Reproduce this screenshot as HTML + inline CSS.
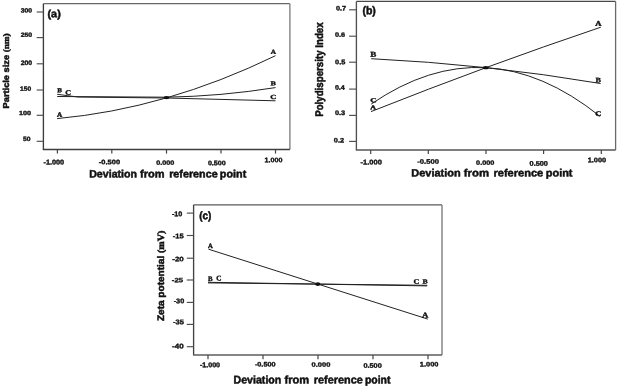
<!DOCTYPE html>
<html><head><meta charset="utf-8"><style>
html,body{margin:0;padding:0;background:#fff;}
svg{display:block;}
text{text-rendering:geometricPrecision;}
.s{font-family:"Liberation Sans",sans-serif;font-weight:bold;}
.r{font-family:"Liberation Serif",serif;font-weight:bold;}
</style></head><body>
<svg width="618" height="387" viewBox="0 0 618 387" style="filter:blur(0.3px)">
<rect width="618" height="387" fill="#fff"/>
<path d="M43.4,3.7 H289.9" fill="none" stroke="#686868" stroke-width="1.3"/>
<path d="M289.9,3.7 V149.5" fill="none" stroke="#7a7a7a" stroke-width="1.3"/>
<path d="M43.4,3.7 V149.5" fill="none" stroke="#3c3c3c" stroke-width="1.35"/>
<path d="M42.8,149.5 H289.9" fill="none" stroke="#3e3e3e" stroke-width="1.4"/>
<path d="M36.7,12.0 H43.4" stroke="#4e4e4e" stroke-width="1.15"/>
<path d="M36.7,37.6 H43.4" stroke="#4e4e4e" stroke-width="1.15"/>
<path d="M36.7,63.8 H43.4" stroke="#4e4e4e" stroke-width="1.15"/>
<path d="M36.7,90.0 H43.4" stroke="#4e4e4e" stroke-width="1.15"/>
<path d="M36.7,115.3 H43.4" stroke="#4e4e4e" stroke-width="1.15"/>
<path d="M36.7,141.3 H43.4" stroke="#4e4e4e" stroke-width="1.15"/>
<path d="M57.4,149.5 V153.6" stroke="#444" stroke-width="1.2"/>
<path d="M111.8,149.5 V153.6" stroke="#444" stroke-width="1.2"/>
<path d="M166.5,149.5 V153.6" stroke="#444" stroke-width="1.2"/>
<path d="M221.0,149.5 V153.6" stroke="#444" stroke-width="1.2"/>
<path d="M275.5,149.5 V153.6" stroke="#444" stroke-width="1.2"/>
<path d="M356.4,1.45 H615.6" fill="none" stroke="#484848" stroke-width="1.3"/>
<path d="M615.6,1.45 V149.95" fill="none" stroke="#6a6a6a" stroke-width="1.3"/>
<path d="M356.4,1.45 V149.95" fill="none" stroke="#505050" stroke-width="1.35"/>
<path d="M355.79999999999995,149.95 H615.6" fill="none" stroke="#545454" stroke-width="1.4"/>
<path d="M349.1,9.8 H356.4" stroke="#4e4e4e" stroke-width="1.15"/>
<path d="M349.1,36.2 H356.4" stroke="#4e4e4e" stroke-width="1.15"/>
<path d="M349.1,62.2 H356.4" stroke="#4e4e4e" stroke-width="1.15"/>
<path d="M349.1,89.1 H356.4" stroke="#4e4e4e" stroke-width="1.15"/>
<path d="M349.1,115.4 H356.4" stroke="#4e4e4e" stroke-width="1.15"/>
<path d="M349.1,141.4 H356.4" stroke="#4e4e4e" stroke-width="1.15"/>
<path d="M370.7,149.95 V154.1" stroke="#444" stroke-width="1.2"/>
<path d="M428.3,149.95 V154.1" stroke="#444" stroke-width="1.2"/>
<path d="M486.0,149.95 V154.1" stroke="#444" stroke-width="1.2"/>
<path d="M543.6,149.95 V154.1" stroke="#444" stroke-width="1.2"/>
<path d="M601.3,149.95 V154.1" stroke="#444" stroke-width="1.2"/>
<path d="M193.6,204.9 H442.0" fill="none" stroke="#5a5a5a" stroke-width="1.3"/>
<path d="M442.0,204.9 V355.0" fill="none" stroke="#747474" stroke-width="1.3"/>
<path d="M193.6,204.9 V355.0" fill="none" stroke="#424242" stroke-width="1.35"/>
<path d="M193.0,355.0 H442.0" fill="none" stroke="#5c5c5c" stroke-width="1.4"/>
<path d="M186.8,213.1 H193.6" stroke="#4e4e4e" stroke-width="1.15"/>
<path d="M186.8,235.5 H193.6" stroke="#4e4e4e" stroke-width="1.15"/>
<path d="M186.8,258.2 H193.6" stroke="#4e4e4e" stroke-width="1.15"/>
<path d="M186.8,280.0 H193.6" stroke="#4e4e4e" stroke-width="1.15"/>
<path d="M186.8,302.4 H193.6" stroke="#4e4e4e" stroke-width="1.15"/>
<path d="M186.8,324.4 H193.6" stroke="#4e4e4e" stroke-width="1.15"/>
<path d="M186.8,346.7 H193.6" stroke="#4e4e4e" stroke-width="1.15"/>
<path d="M208.0,355.0 V359.2" stroke="#444" stroke-width="1.2"/>
<path d="M263.0,355.0 V359.2" stroke="#444" stroke-width="1.2"/>
<path d="M318.0,355.0 V359.2" stroke="#444" stroke-width="1.2"/>
<path d="M373.0,355.0 V359.2" stroke="#444" stroke-width="1.2"/>
<path d="M428.0,355.0 V359.2" stroke="#444" stroke-width="1.2"/>
<path d="M57.1,118.6 Q166.4,108.7 275.5,55.7" fill="none" stroke="#222" stroke-width="1"/>
<path d="M57.2,96.5 L166.4,97.2 Q220.95,96.3 275.5,87.6" fill="none" stroke="#222" stroke-width="1"/>
<path d="M57.2,94.3 Q67,95.6 78,97.0 L166.4,98.0 L275.5,100.8" fill="none" stroke="#222" stroke-width="1"/>
<path d="M371,111.6 Q486,65.9 600.8,27.2" fill="none" stroke="#222" stroke-width="1"/>
<path d="M371.2,58.7 Q486,64.2 600.6,83.5" fill="none" stroke="#222" stroke-width="1"/>
<path d="M371.2,104.1 Q486,25.1 600,116.3" fill="none" stroke="#222" stroke-width="1"/>
<path d="M208.5,249.2 L427.8,319.1" fill="none" stroke="#222" stroke-width="1"/>
<path d="M208,282.3 L427.2,285.9" fill="none" stroke="#222" stroke-width="1"/>
<path d="M208,282.9 L427.2,285.3" fill="none" stroke="#222" stroke-width="1"/>
<ellipse cx="166.5" cy="97.6" rx="2.9" ry="1.6" fill="#111"/>
<ellipse cx="485.7" cy="67.65" rx="3.0" ry="1.6" fill="#111"/>
<ellipse cx="317.8" cy="284.1" rx="2.6" ry="1.9" fill="#111"/>
<text class="s" transform="matrix(1.08482,0.00050,0.00050,1.04787,47.483,17.274)" font-size="10" fill="#111" stroke="#111" stroke-width="0.469" stroke-linejoin="round">(a)</text>
<text class="s" transform="matrix(0.68683,0.00050,0.00050,0.61380,20.734,12.568)" font-size="10" fill="#111" stroke="#111" stroke-width="0.585" stroke-linejoin="round">300</text>
<text class="s" transform="matrix(0.69113,0.00050,0.00050,0.59972,20.664,36.769)" font-size="10" fill="#111" stroke="#111" stroke-width="0.590" stroke-linejoin="round">250</text>
<text class="s" transform="matrix(0.69113,0.00050,0.00050,0.64197,20.664,65.065)" font-size="10" fill="#111" stroke="#111" stroke-width="0.570" stroke-linejoin="round">200</text>
<text class="s" transform="matrix(0.66611,0.00050,0.00050,0.61380,19.971,90.668)" font-size="10" fill="#111" stroke="#111" stroke-width="0.594" stroke-linejoin="round">150</text>
<text class="s" transform="matrix(0.72344,0.00050,0.00050,0.59972,19.037,115.069)" font-size="10" fill="#111" stroke="#111" stroke-width="0.577" stroke-linejoin="round">100</text>
<text class="s" transform="matrix(0.67865,0.00050,0.00050,0.61380,23.067,140.968)" font-size="10" fill="#111" stroke="#111" stroke-width="0.589" stroke-linejoin="round">50</text>
<text class="s" transform="matrix(0.72938,0.00050,0.00050,0.68423,43.479,164.461)" font-size="10" fill="#111" stroke="#111" stroke-width="0.538" stroke-linejoin="round">-1.000</text>
<text class="s" transform="matrix(0.74756,0.00050,0.00050,0.64197,98.872,164.165)" font-size="10" fill="#111" stroke="#111" stroke-width="0.549" stroke-linejoin="round">-0.500</text>
<text class="s" transform="matrix(0.72554,0.00050,0.00050,0.61380,156.181,164.668)" font-size="10" fill="#111" stroke="#111" stroke-width="0.569" stroke-linejoin="round">0.000</text>
<text class="s" transform="matrix(0.71727,0.00050,0.00050,0.65606,207.884,165.363)" font-size="10" fill="#111" stroke="#111" stroke-width="0.554" stroke-linejoin="round">0.500</text>
<text class="s" transform="matrix(0.71908,0.00050,0.00050,0.65606,264.440,162.263)" font-size="10" fill="#111" stroke="#111" stroke-width="0.553" stroke-linejoin="round">1.000</text>
<text class="s" transform="matrix(1.06293,0.00050,0.00050,1.07246,89.181,177.475)" font-size="10" fill="#111" stroke="#111" stroke-width="0.468" stroke-linejoin="round">Deviation</text>
<text class="s" transform="matrix(1.10047,0.00050,0.00050,1.07246,140.105,177.475)" font-size="10" fill="#111" stroke="#111" stroke-width="0.460" stroke-linejoin="round">from</text>
<text class="s" transform="matrix(1.07614,0.00050,0.00050,1.07246,169.172,177.475)" font-size="10" fill="#111" stroke="#111" stroke-width="0.465" stroke-linejoin="round">reference</text>
<text class="s" transform="matrix(1.07839,0.00050,0.00050,1.07246,219.870,177.475)" font-size="10" fill="#111" stroke="#111" stroke-width="0.465" stroke-linejoin="round">point</text>
<text class="s" transform="matrix(0.00000,-0.92513,0.85688,0.00000,8.777,108.423)" font-size="10" fill="#111" stroke="#111" stroke-width="0.562" stroke-linejoin="round">Particle size <tspan class="r">(nm)</tspan></text>
<text class="r" transform="matrix(0.71903,0.00050,0.00050,0.62431,57.227,92.129)" font-size="10" fill="#111" stroke="#111" stroke-width="0.567" stroke-linejoin="round">B</text>
<text class="r" transform="matrix(0.80967,0.00050,0.00050,0.67545,65.366,94.761)" font-size="10" fill="#111" stroke="#111" stroke-width="0.514" stroke-linejoin="round">C</text>
<text class="r" transform="matrix(0.72257,0.00050,0.00050,0.69061,56.899,116.729)" font-size="10" fill="#111" stroke="#111" stroke-width="0.538" stroke-linejoin="round">A</text>
<text class="r" transform="matrix(0.72257,0.00050,0.00050,0.61485,270.699,53.629)" font-size="10" fill="#111" stroke="#111" stroke-width="0.570" stroke-linejoin="round">A</text>
<text class="r" transform="matrix(0.81581,0.00050,0.00050,0.57815,270.608,85.229)" font-size="10" fill="#111" stroke="#111" stroke-width="0.553" stroke-linejoin="round">B</text>
<text class="r" transform="matrix(0.84300,0.00050,0.00050,0.63000,270.350,98.966)" font-size="10" fill="#111" stroke="#111" stroke-width="0.521" stroke-linejoin="round">C</text>
<text class="s" transform="matrix(1.05508,0.00050,0.00050,1.12234,362.397,14.218)" font-size="10" fill="#111" stroke="#111" stroke-width="0.459" stroke-linejoin="round">(b)</text>
<text class="s" transform="matrix(0.73725,0.00050,0.00050,0.65606,335.876,10.463)" font-size="10" fill="#111" stroke="#111" stroke-width="0.546" stroke-linejoin="round">0.7</text>
<text class="s" transform="matrix(0.73725,0.00050,0.00050,0.62789,334.876,36.866)" font-size="10" fill="#111" stroke="#111" stroke-width="0.559" stroke-linejoin="round">0.6</text>
<text class="s" transform="matrix(0.73924,0.00050,0.00050,0.65606,335.075,64.263)" font-size="10" fill="#111" stroke="#111" stroke-width="0.546" stroke-linejoin="round">0.5</text>
<text class="s" transform="matrix(0.71541,0.00050,0.00050,0.64197,334.885,89.865)" font-size="10" fill="#111" stroke="#111" stroke-width="0.561" stroke-linejoin="round">0.4</text>
<text class="s" transform="matrix(0.73725,0.00050,0.00050,0.65606,334.876,114.963)" font-size="10" fill="#111" stroke="#111" stroke-width="0.546" stroke-linejoin="round">0.3</text>
<text class="s" transform="matrix(0.74489,0.00050,0.00050,0.65606,333.773,142.563)" font-size="10" fill="#111" stroke="#111" stroke-width="0.544" stroke-linejoin="round">0.2</text>
<text class="s" transform="matrix(0.75120,0.00050,0.00050,0.68423,360.571,164.461)" font-size="10" fill="#111" stroke="#111" stroke-width="0.530" stroke-linejoin="round">-1.000</text>
<text class="s" transform="matrix(0.76938,0.00050,0.00050,0.65606,417.163,163.763)" font-size="10" fill="#111" stroke="#111" stroke-width="0.535" stroke-linejoin="round">-0.500</text>
<text class="s" transform="matrix(0.73380,0.00050,0.00050,0.61380,476.077,164.668)" font-size="10" fill="#111" stroke="#111" stroke-width="0.566" stroke-linejoin="round">0.000</text>
<text class="s" transform="matrix(0.73380,0.00050,0.00050,0.67014,529.577,165.762)" font-size="10" fill="#111" stroke="#111" stroke-width="0.542" stroke-linejoin="round">0.500</text>
<text class="s" transform="matrix(0.73992,0.00050,0.00050,0.65606,587.627,162.263)" font-size="10" fill="#111" stroke="#111" stroke-width="0.545" stroke-linejoin="round">1.000</text>
<text class="s" transform="matrix(1.09725,0.00050,0.00050,1.06522,411.257,176.475)" font-size="10" fill="#111" stroke="#111" stroke-width="0.462" stroke-linejoin="round">Deviation</text>
<text class="s" transform="matrix(1.13785,0.00050,0.00050,1.06522,463.797,176.475)" font-size="10" fill="#111" stroke="#111" stroke-width="0.454" stroke-linejoin="round">from</text>
<text class="s" transform="matrix(1.10568,0.00050,0.00050,1.06522,493.451,176.475)" font-size="10" fill="#111" stroke="#111" stroke-width="0.461" stroke-linejoin="round">reference</text>
<text class="s" transform="matrix(1.09534,0.00050,0.00050,1.06522,545.758,176.475)" font-size="10" fill="#111" stroke="#111" stroke-width="0.463" stroke-linejoin="round">point</text>
<text class="s" transform="matrix(0.00000,-0.97204,1.11220,0.00000,322.640,116.856)" font-size="10" fill="#111" stroke="#111" stroke-width="0.481" stroke-linejoin="round">Polydispersity Index</text>
<text class="r" transform="matrix(0.91258,0.00050,0.00050,0.74738,370.188,56.729)" font-size="10" fill="#111" stroke="#111" stroke-width="0.460" stroke-linejoin="round">B</text>
<text class="r" transform="matrix(0.89300,0.00050,0.00050,0.61485,370.224,102.268)" font-size="10" fill="#111" stroke="#111" stroke-width="0.513" stroke-linejoin="round">C</text>
<text class="r" transform="matrix(0.80829,0.00050,0.00050,0.61485,370.290,109.329)" font-size="10" fill="#111" stroke="#111" stroke-width="0.539" stroke-linejoin="round">A</text>
<text class="r" transform="matrix(0.86543,0.00050,0.00050,0.72091,595.284,25.729)" font-size="10" fill="#111" stroke="#111" stroke-width="0.481" stroke-linejoin="round">A</text>
<text class="r" transform="matrix(0.81581,0.00050,0.00050,0.67046,595.608,82.329)" font-size="10" fill="#111" stroke="#111" stroke-width="0.514" stroke-linejoin="round">B</text>
<text class="r" transform="matrix(0.84300,0.00050,0.00050,0.70576,595.350,116.058)" font-size="10" fill="#111" stroke="#111" stroke-width="0.493" stroke-linejoin="round">C</text>
<text class="s" transform="matrix(0.99554,0.00050,0.00050,1.10106,199.227,219.163)" font-size="10" fill="#111" stroke="#111" stroke-width="0.478" stroke-linejoin="round">(c)</text>
<text class="s" transform="matrix(0.71750,0.00050,0.00050,0.68423,171.884,216.361)" font-size="10" fill="#111" stroke="#111" stroke-width="0.542" stroke-linejoin="round">-10</text>
<text class="s" transform="matrix(0.75783,0.00050,0.00050,0.65114,172.668,238.364)" font-size="10" fill="#111" stroke="#111" stroke-width="0.541" stroke-linejoin="round">-15</text>
<text class="s" transform="matrix(0.79838,0.00050,0.00050,0.64197,172.252,261.265)" font-size="10" fill="#111" stroke="#111" stroke-width="0.531" stroke-linejoin="round">-20</text>
<text class="s" transform="matrix(0.77957,0.00050,0.00050,0.62789,171.859,282.166)" font-size="10" fill="#111" stroke="#111" stroke-width="0.543" stroke-linejoin="round">-25</text>
<text class="s" transform="matrix(0.73221,0.00050,0.00050,0.67014,173.678,303.162)" font-size="10" fill="#111" stroke="#111" stroke-width="0.542" stroke-linejoin="round">-30</text>
<text class="s" transform="matrix(0.75058,0.00050,0.00050,0.67014,172.971,324.362)" font-size="10" fill="#111" stroke="#111" stroke-width="0.536" stroke-linejoin="round">-35</text>
<text class="s" transform="matrix(0.79838,0.00050,0.00050,0.68423,172.052,348.561)" font-size="10" fill="#111" stroke="#111" stroke-width="0.514" stroke-linejoin="round">-40</text>
<text class="s" transform="matrix(0.71120,0.00050,0.00050,0.69831,199.887,367.259)" font-size="10" fill="#111" stroke="#111" stroke-width="0.539" stroke-linejoin="round">-1.000</text>
<text class="s" transform="matrix(0.72938,0.00050,0.00050,0.65606,254.879,366.563)" font-size="10" fill="#111" stroke="#111" stroke-width="0.549" stroke-linejoin="round">-0.500</text>
<text class="s" transform="matrix(0.75033,0.00050,0.00050,0.62789,311.571,366.766)" font-size="10" fill="#111" stroke="#111" stroke-width="0.554" stroke-linejoin="round">0.000</text>
<text class="s" transform="matrix(0.73380,0.00050,0.00050,0.65606,363.377,367.663)" font-size="10" fill="#111" stroke="#111" stroke-width="0.548" stroke-linejoin="round">0.500</text>
<text class="s" transform="matrix(0.74408,0.00050,0.00050,0.65606,419.825,366.563)" font-size="10" fill="#111" stroke="#111" stroke-width="0.544" stroke-linejoin="round">1.000</text>
<text class="s" transform="matrix(1.06293,0.00050,0.00050,1.10870,233.481,383.575)" font-size="10" fill="#111" stroke="#111" stroke-width="0.461" stroke-linejoin="round">Deviation</text>
<text class="s" transform="matrix(1.11449,0.00050,0.00050,1.10870,284.502,383.575)" font-size="10" fill="#111" stroke="#111" stroke-width="0.450" stroke-linejoin="round">from</text>
<text class="s" transform="matrix(1.08750,0.00050,0.00050,1.10870,313.764,383.575)" font-size="10" fill="#111" stroke="#111" stroke-width="0.455" stroke-linejoin="round">reference</text>
<text class="s" transform="matrix(1.04449,0.00050,0.00050,1.10870,364.894,383.575)" font-size="10" fill="#111" stroke="#111" stroke-width="0.465" stroke-linejoin="round">point</text>
<text class="s" transform="matrix(0.00000,-1.00454,0.95263,0.00000,164.376,321.077)" font-size="10" fill="#111" stroke="#111" stroke-width="0.511" stroke-linejoin="round">Zeta potential <tspan class="r">(mV)</tspan></text>
<text class="r" transform="matrix(0.66543,0.00050,0.00050,0.67545,207.904,247.929)" font-size="10" fill="#111" stroke="#111" stroke-width="0.567" stroke-linejoin="round">A</text>
<text class="r" transform="matrix(0.68677,0.00050,0.00050,0.67046,207.934,280.929)" font-size="10" fill="#111" stroke="#111" stroke-width="0.560" stroke-linejoin="round">B</text>
<text class="r" transform="matrix(0.72633,0.00050,0.00050,0.73606,216.208,280.555)" font-size="10" fill="#111" stroke="#111" stroke-width="0.520" stroke-linejoin="round">C</text>
<text class="r" transform="matrix(0.80967,0.00050,0.00050,0.69061,413.566,283.860)" font-size="10" fill="#111" stroke="#111" stroke-width="0.508" stroke-linejoin="round">C</text>
<text class="r" transform="matrix(0.78355,0.00050,0.00050,0.62431,422.614,283.429)" font-size="10" fill="#111" stroke="#111" stroke-width="0.543" stroke-linejoin="round">B</text>
<text class="r" transform="matrix(0.87971,0.00050,0.00050,0.75121,422.083,317.529)" font-size="10" fill="#111" stroke="#111" stroke-width="0.467" stroke-linejoin="round">A</text>
</svg>
</body></html>
